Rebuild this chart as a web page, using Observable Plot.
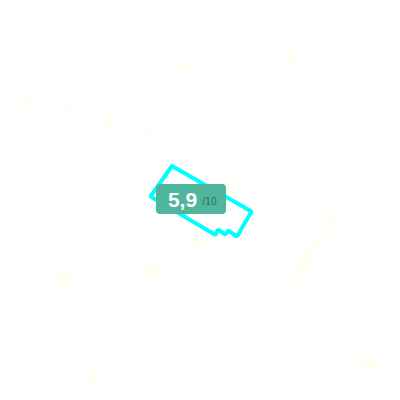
<!DOCTYPE html>
<html>
<head>
<meta charset="utf-8">
<script src="https://cdn.jsdelivr.net/npm/d3@7"></script>
<script src="https://cdn.jsdelivr.net/npm/@observablehq/plot@0.6"></script>
<style>html,body{margin:0;padding:0;background:#fff}svg{display:block}</style>
</head>
<body>
<div id="chart"></div>
<script>
const outlineX = [171.5, 251, 236.5, 227.5, 225, 217.5, 215, 150, 171.5];
const outlineY = [165.5, 211, 236, 230, 234, 229, 234.5, 196, 165.5];
const outline = outlineX.map((x, i) => ({x, y: outlineY[i]}));

const labelText = ["8", "6", "4", "2", "17", "19", "27", "31", "33", "35", "37", "26"];
const labelX = [26, 67, 107, 148, 320, 287, 236, 196, 150, 65, 95, 367];
const labelY = [103, 112, 121, 131, 46, 60, 180, 243, 271, 279, 380, 364];
const labels = labelText.map((t, i) => ({t, x: labelX[i], y: labelY[i]}));

const streetText = ["Kırkısız", "Vez", "Chunfeng Cool"];
const streetX = [181, 207, 312];
const streetY = [66, 74, 250];
const streetRotate = [11, 15, -57];
const streetSize = [8, 8, 12];
const streets = streetText.map((t, i) => ({t, x: streetX[i], y: streetY[i], r: streetRotate[i], s: streetSize[i]}));

const badgeX1 = [156], badgeX2 = [226], badgeY1 = [184], badgeY2 = [214];
const badge = [{x1: badgeX1[0], x2: badgeX2[0], y1: badgeY1[0], y2: badgeY2[0]}];
const scoreText = ["5,9"], scoreOf = ["/10"];

const yellow = "#ffffe0";
const chart = Plot.plot({
  width: 400, height: 400,
  margin: 0,
  style: {background: "#fff", fontFamily: "Liberation Sans, Arial, sans-serif"},
  x: {type: "identity", axis: null},
  y: {type: "identity", axis: null},
  marks: [
    Plot.text(labels, {x: "x", y: "y", text: "t", fontSize: 14, fill: yellow}),
    ...streets.map(s => Plot.text([s], {x: "x", y: "y", text: "t", fontSize: s.s, rotate: s.r, fill: yellow})),
    Plot.line(outline, {x: "x", y: "y", stroke: "#00ffff", strokeWidth: 4, curve: "linear", strokeLinejoin: "miter"}),
    Plot.rect(badge, {x1: "x1", x2: "x2", y1: "y1", y2: "y2", fill: "#4fb59b", rx: 4}),
    Plot.text(scoreText, {x: () => 182, y: () => 200, text: d => d, fontSize: 21, fontWeight: "bold", fill: "#fff"}),
    Plot.text(scoreOf, {x: () => 209, y: () => 201, text: d => d, fontSize: 10, fill: "#2f6f62"})
  ]
});
document.getElementById("chart").append(chart);
</script>
</body>
</html>
